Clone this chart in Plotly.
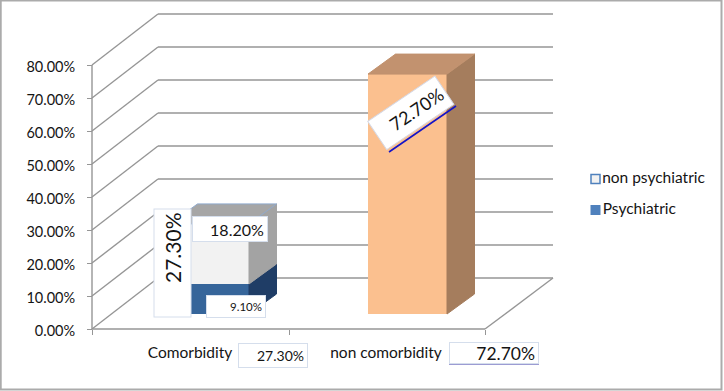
import plotly.graph_objects as go

# ---- data ----
categories = ["Comorbidity", "non comorbidity"]
psychiatric = [9.1, None]
non_psychiatric = [18.2, 72.7]
category_totals = ["27.30%", "72.70%"]
psychiatric_labels = ["9.10%"]
non_psychiatric_labels = ["18.20%", "72.70%"]
legend_names = ["non psychiatric", "Psychiatric"]
y_ticks = [0, 10, 20, 30, 40, 50, 60, 70, 80]
y_tick_labels = ["0.00%", "10.00%", "20.00%", "30.00%", "40.00%", "50.00%", "60.00%", "70.00%", "80.00%"]

# ---- layout and style ----
W, H = 724, 391
PX_PER_UNIT = 3.3
ZERO_PX = 329
def py(v):
    return (ZERO_PX - v) / PX_PER_UNIT
def fy(p):
    return 1 - p / H

FONT = "Lato"
TEXT = "#141414"
GRID = "#969696"
WALL_X0, WALL_X1, FLOOR_X1 = 92, 553, 485
WALL_DX, WALL_DY = 66, 51 / PX_PER_UNIT
BAR_X = [209.5, 407.5]
BAR_W = 79
BASE = py(314)
DX, DY = 27.5, 20 / PX_PER_UNIT

shapes = [dict(type="rect", xref="paper", yref="paper", x0=0.001, x1=721.5 / W, y0=fy(389.5), y1=fy(0.5),
               line=dict(color="#ababab", width=2), layer="below")]
def seg(x0, y0, x1, y1):
    shapes.append(dict(type="line", xref="x", yref="y", x0=x0, y0=y0, x1=x1, y1=y1,
                       line=dict(color=GRID, width=1.4), layer="below"))
for t in y_ticks:
    seg(WALL_X0, t, WALL_X0 + WALL_DX, t + WALL_DY)
    seg(WALL_X0 + WALL_DX, t + WALL_DY, WALL_X1, t + WALL_DY)
seg(WALL_X0, y_ticks[0], WALL_X0, y_ticks[-1])
seg(WALL_X0, 0, FLOOR_X1, 0)
seg(FLOOR_X1, 0, WALL_X1, WALL_DY)

fig = go.Figure()
psy_base = [BASE, BASE]
non_base = [BASE + psychiatric[0], BASE]
fig.add_trace(go.Bar(name=legend_names[1], x=BAR_X, y=psychiatric, base=psy_base, width=BAR_W, showlegend=False,
                     marker=dict(color="#36659a", line=dict(width=0))))
fig.add_trace(go.Bar(name=legend_names[0], x=BAR_X, y=non_psychiatric, base=non_base, width=BAR_W, showlegend=False,
                     marker=dict(color=["#f2f2f2", "#fbc08f"], line=dict(width=0))))

def face(xs, ys, color, line=None):
    fig.add_trace(go.Scatter(x=xs, y=ys, mode="lines", fill="toself", fillcolor=color, showlegend=False,
                             hoverinfo="skip", line=dict(color=line or color, width=1)))
def box_sides(cx, lo, hi, side, top=None, top_line=None):
    r = cx + BAR_W / 2
    face([r, r + DX, r + DX, r, r], [lo, lo + DY, hi + DY, hi, lo], side)
    if top:
        l = cx - BAR_W / 2
        face([l, l + DX, r + DX, r, l], [hi, hi + DY, hi + DY, hi, hi], top, top_line)

box_sides(BAR_X[0], BASE, BASE + psychiatric[0], "#1f3d66")
box_sides(BAR_X[0], non_base[0], non_base[0] + non_psychiatric[0], "#a3a3a3", "#a6a6a6", "#8fa9cc")
box_sides(BAR_X[1], BASE, BASE + non_psychiatric[1], "#a57d5d", "#c2926f")

BOX = "#d5deec"
PAD = 3
def label(text, x0, x1, p0, p1, size, angle=0, border=BOX, align="right"):
    w, h = x1 - x0, p1 - p0
    if angle == -90:
        w, h = h, w
    fig.add_annotation(xref="paper", yref="paper", x=(x0 + x1) / 2 / W, y=fy((p0 + p1) / 2),
                       xanchor="center", yanchor="middle",
                       text=text, showarrow=False, width=w - 2 * PAD - 2, height=h - 2 * PAD - 2, align=align, valign="middle",
                       font=dict(family=FONT, size=size, color=TEXT), bgcolor="white",
                       bordercolor=border, borderwidth=1, borderpad=PAD, textangle=angle)

label(category_totals[0], 153, 191, 209, 318, 21, angle=-90)
label(non_psychiatric_labels[0], 192, 268, 216, 242, 16)
label(psychiatric_labels[0], 206, 266, 295, 318, 11.5)
label(category_totals[0], 238, 308, 343, 368, 14)
label(category_totals[1], 449, 539, 342, 364, 17.5)

# rotated label on the tall bar
rot_cx, rot_cy, rot_w, rot_h, rot_deg = 411.5, 113, 80, 35, -34
fig.add_annotation(xref="paper", yref="paper", x=rot_cx / W, y=fy(rot_cy), xanchor="center", yanchor="middle",
                   text=non_psychiatric_labels[1],
                   showarrow=False, width=rot_w - 6, height=rot_h - 8, align="right", valign="middle",
                   font=dict(family=FONT, size=18, color=TEXT), bgcolor="white", bordercolor="#d5d9e6",
                   borderwidth=1, borderpad=3, textangle=rot_deg)
shapes.append(dict(type="line", xref="paper", yref="paper", x0=389 / W, x1=456 / W, y0=fy(152), y1=fy(106),
                   line=dict(color="#1414c8", width=1.6), layer="above"))
shapes.append(dict(type="line", xref="paper", yref="paper", x0=449 / W, x1=539 / W, y0=fy(364), y1=fy(364),
                   line=dict(color="#3a3aa8", width=1), layer="above"))

# legend entries as square markers with real text
fig.add_trace(go.Scatter(x=[595.5], y=[py(179)], mode="markers+text", name=legend_names[0], text=[legend_names[0]],
                         textposition="middle right", showlegend=False, hoverinfo="skip",
                         marker=dict(symbol="square", size=9, color="#f2f2f2", line=dict(color="#4f81bd", width=1.5)),
                         textfont=dict(family=FONT, size=15.5, color=TEXT)))
fig.add_trace(go.Scatter(x=[595.5], y=[py(210)], mode="markers+text", name=legend_names[1], text=[legend_names[1]],
                         textposition="middle right", showlegend=False, hoverinfo="skip",
                         marker=dict(symbol="square", size=10, color="#4f81bd"),
                         textfont=dict(family=FONT, size=15.5, color=TEXT)))

fig.update_layout(
    width=W, height=H, margin=dict(l=0, r=0, t=0, b=0), autosize=False,
    paper_bgcolor="white", plot_bgcolor="white", barmode="overlay", shapes=shapes, showlegend=False,
    font=dict(family=FONT, color=TEXT),
    xaxis=dict(range=[0, W], domain=[0, 1], anchor="free", position=1 - ZERO_PX / H, showgrid=False, zeroline=False,
               showline=False, ticks="", tickvals=[190, 386], ticktext=categories,
               tickfont=dict(family=FONT, size=15.5, color=TEXT), ticklabelstandoff=12,
               minor=dict(tickvals=[WALL_X0, 289, FLOOR_X1], ticks="outside", ticklen=5, tickcolor=GRID, tickwidth=1, showgrid=False)),
    yaxis=dict(range=[py(H), py(0)], domain=[0, 1], anchor="free", position=WALL_X0 / W, showgrid=False, zeroline=False,
               showline=False, ticks="outside", ticklen=5, tickcolor=GRID, tickvals=y_ticks, ticktext=y_tick_labels,
               tickfont=dict(family=FONT, size=14.5, color=TEXT), ticklabelstandoff=9, ticklabelshift=2),
)
fig.write_html("out.html", config=dict(displayModeBar=False), post_script="document.body.style.margin='0';")
